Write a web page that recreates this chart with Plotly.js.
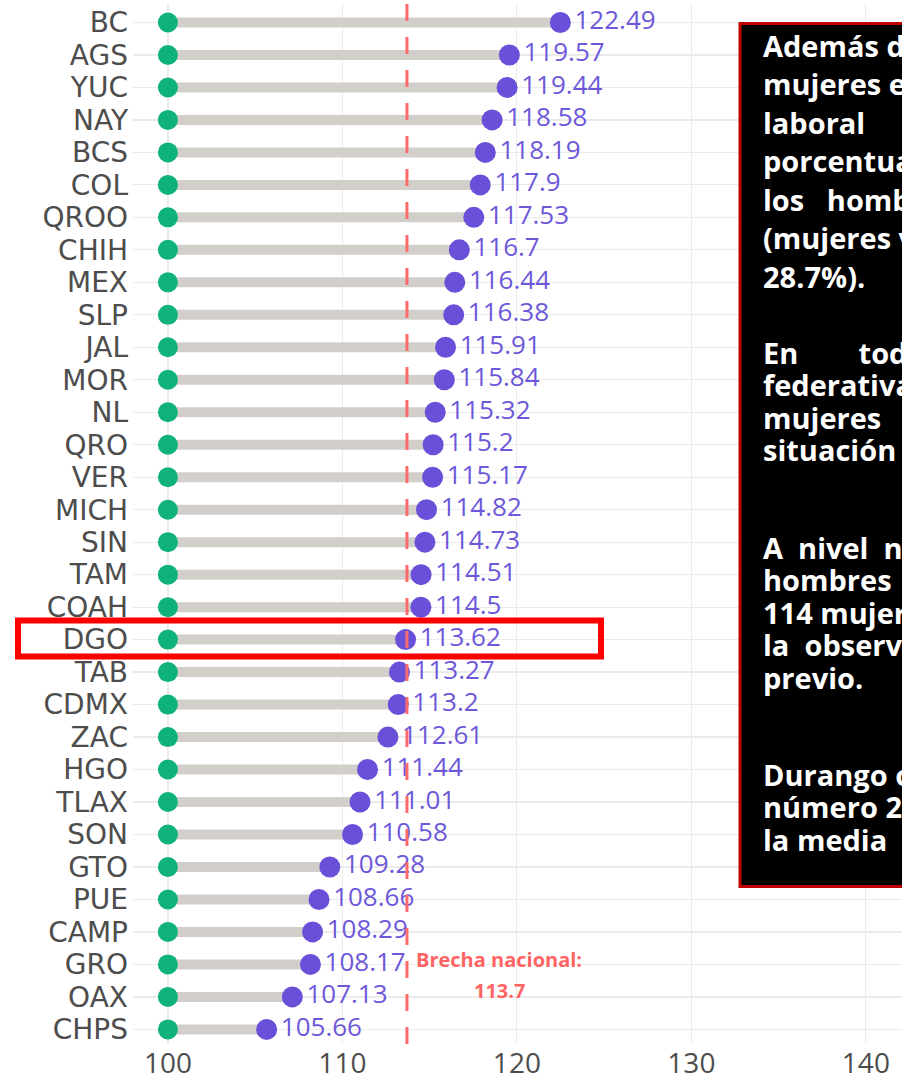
<!DOCTYPE html>
<html>
<head>
<meta charset="utf-8">
<script src="https://cdn.plot.ly/plotly-3.0.1.min.js"></script>
<style>html,body{margin:0;padding:0;background:#fff;}#chart{width:902px;height:1082px;}</style>
</head>
<body>
<div id="chart"></div>
<script>
// ---- data ----
const states = ["BC","AGS","YUC","NAY","BCS","COL","QROO","CHIH","MEX","SLP","JAL","MOR","NL","QRO","VER","MICH","SIN","TAM","COAH","DGO","TAB","CDMX","ZAC","HGO","TLAX","SON","GTO","PUE","CAMP","GRO","OAX","CHPS"];
const values = [122.49,119.57,119.44,118.58,118.19,117.9,117.53,116.7,116.44,116.38,115.91,115.84,115.32,115.2,115.17,114.82,114.73,114.51,114.5,113.62,113.27,113.2,112.61,111.44,111.01,110.58,109.28,108.66,108.29,108.17,107.13,105.66];
const baseValue = 100;
const nationalGap = 113.7;
const nationalLabel = ["Brecha nacional:", "113.7"];
const highlightState = "DGO";
const xTicks = [100,110,120,130,140];
const boxParagraphs = [
  ["Además\u00a0de\u00a0que", "mujeres\u00a0en\u00a0la", "laboral", "porcentuales", "los\u00a0\u00a0\u00a0hombres", "(mujeres\u00a0vs", "28.7%)."],
  ["En\u00a0\u00a0\u00a0\u00a0\u00a0\u00a0\u00a0\u00a0todas", "federativas", "mujeres", "situación"],
  ["A\u00a0\u00a0nivel\u00a0\u00a0nacional", "hombres", "114\u00a0mujeres", "la\u00a0\u00a0observada", "previo."],
  ["Durango\u00a0ocupa", "número\u00a020", "la\u00a0media"]
];

// ---- geometry helpers ----
const W = 902, H = 1082;
const rowTop = 22, rowBottom = 1029;
const rowStep = (rowBottom - rowTop) / (states.length - 1);
const padTop = 0.6, padBottom = 0.45;
const plotTopPx = rowTop - padTop * rowStep;
const plotBottomPx = rowBottom + padBottom * rowStep;
const M = {l:133, r:0, t:plotTopPx, b:H - plotBottomPx};
const plotW = W - M.l - M.r, plotH = plotBottomPx - plotTopPx;
const px2paperX = p => (p - M.l) / plotW;
const px2paperY = p => (plotBottomPx - p) / plotH;
const rowPx = i => rowTop + i * rowStep;

// segments
const segX = [], segY = [];
states.forEach((s,i) => { segX.push(baseValue, values[i], null); segY.push(s, s, null); });

const traces = [
  {type:'scatter', mode:'lines', x:segX, y:segY, line:{color:'#d2cfca', width:10}, hoverinfo:'skip', showlegend:false, cliponaxis:false},
  {type:'scatter', mode:'markers', x:states.map(()=>baseValue), y:states, marker:{color:'#10b27c', size:20}, showlegend:false, cliponaxis:false},
  {type:'scatter', mode:'markers+text', x:values, y:states, text:values.map(v=>String(v)), textposition:'middle right',
   textfont:{family:'Open Sans, sans-serif', size:26, color:'#6d58da'},
   marker:{color:'#6a4fd8', size:21}, showlegend:false, cliponaxis:false}
];

const shapes = [
  {type:'line', xref:'x', x0:nationalGap, x1:nationalGap, yref:'paper', y0:0, y1:1, line:{color:'#ff6b6b', width:3, dash:'17px,16px'}, layer:'above'},
  {type:'rect', xref:'paper', yref:'paper', x0:px2paperX(740), x1:1.1, y0:px2paperY(886), y1:px2paperY(23), fillcolor:'#000000', line:{color:'#c00000', width:3}, layer:'above'}
];
const hi = states.indexOf(highlightState);
shapes.push({type:'rect', xref:'paper', yref:'paper', x0:px2paperX(18), x1:px2paperX(601), y0:px2paperY(rowPx(hi)+17), y1:px2paperY(rowPx(hi)-19), fillcolor:'rgba(0,0,0,0)', line:{color:'#ff0000', width:6}, layer:'above'});

const annotations = [];
nationalLabel.forEach((t,k) => annotations.push({xref:'x', x:119.0, yref:'paper', y:px2paperY(959 + k*31), text:'<b>'+t+'</b>', showarrow:false, xanchor:'center', yanchor:'middle', font:{family:'Open Sans, sans-serif', size:20, color:'#ff6464'}}));

const paraStart = [45, 352, 547, 774];
const paraGap = [38.5, 32.5, 32.5, 32.5];
boxParagraphs.forEach((lines,p) => lines.forEach((t,k) => annotations.push({
  xref:'paper', yref:'paper', x:px2paperX(761), y:px2paperY(paraStart[p] + k*paraGap[p]), text:'<b>'+t+'</b>', showarrow:false,
  xanchor:'left', yanchor:'middle', align:'left', font:{family:'Open Sans, sans-serif', size:29, color:'#ffffff'}
})));

const layout = {
  width:W, height:H, margin:M, paper_bgcolor:'#ffffff', plot_bgcolor:'#ffffff', showlegend:false,
  xaxis:{range:[98.0, 142.07], tickmode:'array', tickvals:xTicks, ticktext:xTicks.map(String), showgrid:true, gridcolor:'#ebebeb', gridwidth:1.2, zeroline:false, ticks:'', showline:false,
         tickfont:{family:'Open Sans, sans-serif', size:28, color:'#4d4d4d'}},
  yaxis:{type:'category', categoryorder:'array', categoryarray:states, tickmode:'array', tickvals:states, ticktext:states,
         range:[states.length - 1 + padBottom, -padTop], showgrid:true, gridcolor:'#ebebeb', gridwidth:1.2, zeroline:false, ticks:'', showline:false,
         ticklabelstandoff:4, tickfont:{family:'DejaVu Sans, sans-serif', size:28, color:'#4d4d4d'}},
  shapes:shapes, annotations:annotations
};
Plotly.newPlot('chart', traces, layout, {displayModeBar:false, staticPlot:true});
</script>
</body>
</html>
